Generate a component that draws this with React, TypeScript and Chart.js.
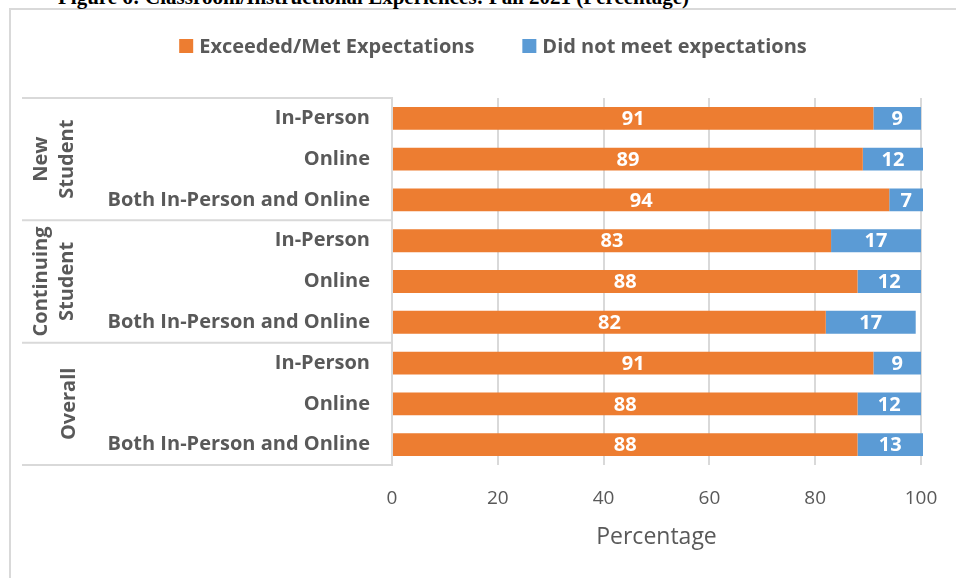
import React, { useEffect, useRef } from "react";
import { Chart, registerables } from "chart.js";

Chart.register(...registerables);

const categories = [
  "In-Person",
  "Online",
  "Both In-Person and Online",
  "In-Person",
  "Online",
  "Both In-Person and Online",
  "In-Person",
  "Online",
  "Both In-Person and Online",
];
const groupLabels = [["New", "Student"], ["Continuing", "Student"], ["Overall"]];
const groupSizes = [3, 3, 3];
const metValues = [91, 89, 94, 83, 88, 82, 91, 88, 88];
const notMetValues = [9, 12, 7, 17, 12, 17, 9, 12, 13];
const seriesNames = ["Exceeded/Met Expectations", "Did not meet expectations"];
const seriesColors = ["#ED7D31", "#5B9BD5"];
const xTickValues = [0, 20, 40, 60, 80, 100];
const xTitle = "Percentage";
const figureTitle = "Figure 6: Classroom/Instructional Experiences: Fall 2021 (Percentage)";

const FONT = "'Open Sans', 'DejaVu Sans', sans-serif";
const GREY = "#595959";
const LINE = "#D9D9D9";

const overlayPlugin = {
  id: "overlay",
  afterDraw(chart: any) {
    const ctx = chart.ctx as CanvasRenderingContext2D;
    const area = chart.chartArea;
    ctx.save();

    // group separators
    const rowH = (area.bottom - area.top) / categories.length;
    ctx.strokeStyle = LINE;
    ctx.lineWidth = 2;
    let idx = 0;
    const bounds: number[] = [area.top];
    groupSizes.forEach((n) => {
      idx += n;
      bounds.push(area.top + rowH * idx);
    });
    bounds.forEach((y) => {
      ctx.beginPath();
      ctx.moveTo(22, y);
      ctx.lineTo(area.left, y);
      ctx.stroke();
    });

    // group labels (rotated)
    ctx.fillStyle = GREY;
    ctx.font = `bold 20px ${FONT}`;
    ctx.textAlign = "center";
    ctx.textBaseline = "middle";
    groupLabels.forEach((lines, g) => {
      const cy = (bounds[g] + bounds[g + 1]) / 2;
      const xs = lines.length === 2 ? [41, 67] : [69];
      lines.forEach((t, i) => {
        ctx.save();
        ctx.translate(xs[i], cy);
        ctx.rotate(-Math.PI / 2);
        ctx.fillText(t, 0, 0);
        ctx.restore();
      });
    });

    // data labels
    ctx.fillStyle = "#FFFFFF";
    ctx.font = `bold 20px ${FONT}`;
    chart.data.datasets.forEach((ds: any, di: number) => {
      const meta = chart.getDatasetMeta(di);
      meta.data.forEach((el: any, i: number) => {
        const right = Math.min(el.x, area.right + 2);
        const cx = (right + el.base) / 2;
        ctx.fillText(String(ds.data[i]), cx, el.y + 1);
      });
    });

    // legend
    ctx.font = `bold 20px ${FONT}`;
    ctx.textAlign = "left";
    const box = 14;
    const gapBox = 6;
    const gapItem = 48;
    const widths = seriesNames.map((s) => ctx.measureText(s).width);
    const total = widths.reduce((a, w) => a + box + gapBox + w, 0) + gapItem * (seriesNames.length - 1);
    let x = 493 - total / 2;
    const ly = 46;
    seriesNames.forEach((s, i) => {
      ctx.fillStyle = seriesColors[i];
      ctx.fillRect(x, ly - box / 2, box, box);
      x += box + gapBox;
      ctx.fillStyle = GREY;
      ctx.fillText(s, x, ly + 1);
      x += widths[i] + gapItem;
    });
    ctx.restore();
  },
};

export default function App() {
  const ref = useRef<HTMLCanvasElement | null>(null);
  useEffect(() => {
    if (!ref.current) return;
    const clip = { left: false, top: false, right: 2, bottom: false };
    const chart = new Chart(ref.current, {
      type: "bar",
      data: {
        labels: categories,
        datasets: [
          { label: seriesNames[0], data: metValues, backgroundColor: seriesColors[0], clip },
          { label: seriesNames[1], data: notMetValues, backgroundColor: seriesColors[1], clip },
        ],
      },
      options: {
        indexAxis: "y",
        animation: false,
        responsive: false,
        maintainAspectRatio: false,
        layout: { padding: { top: 98, right: 35, left: 0, bottom: 0 } },
        datasets: { bar: { barPercentage: 0.56, categoryPercentage: 1 } },
        plugins: { legend: { display: false }, tooltip: { enabled: false } },
        scales: {
          x: {
            type: "linear",
            stacked: true,
            min: 0,
            max: 100,
            afterBuildTicks: (scale: any) => {
              scale.ticks = xTickValues.map((v) => ({ value: v }));
            },
            afterFit: (scale: any) => {
              scale.height = 113;
              scale.paddingRight = 0;
              scale.paddingLeft = 0;
            },
            grid: { color: LINE, lineWidth: 2, drawTicks: false },
            border: { display: false },
            ticks: { color: GREY, font: { family: FONT, size: 19 }, padding: 22 },
            title: {
              display: true,
              text: xTitle,
              color: GREY,
              font: { family: FONT, size: 23 },
              padding: { top: 0, bottom: 27 },
            },
          },
          y: {
            type: "category",
            stacked: true,
            afterFit: (scale: any) => {
              scale.width = 392;
              scale.paddingTop = 0;
              scale.paddingBottom = 0;
            },
            grid: { display: false, drawTicks: false },
            border: { display: true, color: LINE, width: 2 },
            ticks: { color: GREY, font: { family: FONT, size: 20, weight: "bold" }, padding: 22, autoSkip: false },
          },
        },
      },
      plugins: [overlayPlugin],
    } as any);
    return () => chart.destroy();
  }, []);

  return (
    <div style={{ position: "fixed", left: 0, top: 0, width: 956, height: 578, overflow: "hidden", background: "#fff" }}>
      <div
        style={{
          position: "absolute",
          left: 9,
          top: 8,
          width: 1000,
          height: 700,
          border: `2px solid ${LINE}`,
          boxSizing: "border-box",
        }}
      />
      <div
        style={{
          position: "absolute",
          left: 58,
          top: -13,
          fontFamily: "'Liberation Serif', 'Times New Roman', serif",
          fontWeight: "bold",
          fontSize: 21,
          lineHeight: "21px",
          whiteSpace: "nowrap",
          color: "#000",
        }}
      >
        {figureTitle}
      </div>
      <canvas ref={ref} width={956} height={578} style={{ position: "absolute", left: 0, top: 0, width: 956, height: 578 }} />
    </div>
  );
}
